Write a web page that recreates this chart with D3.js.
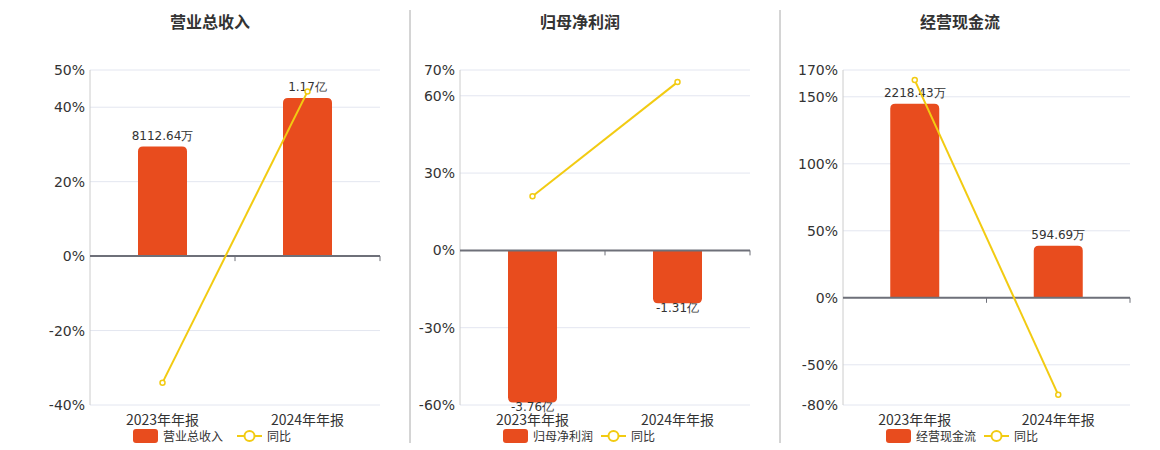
<!DOCTYPE html>
<html><head><meta charset="utf-8">
<script src="https://cdn.jsdelivr.net/npm/d3@7"></script>
<style>body{margin:0;background:#fff;font-family:"Noto Sans CJK SC","DejaVu Sans",sans-serif}</style>
</head><body><svg id="c" width="1160" height="450"></svg>
<script>
const categories = ["2023年年报","2024年年报"];
const titles = ["营业总收入","归母净利润","经营现金流"];
const barValues1 = [8112.64, 11700];
const barLabels1 = ["8112.64万","1.17亿"];
const yoy1 = [-34, 44.2];
const ticks1 = [50,40,20,0,-20,-40];
const barValues2 = [-37600, -13100];
const barLabels2 = ["-3.76亿","-1.31亿"];
const yoy2 = [21, 65.3];
const ticks2 = [70,60,30,0,-30,-60];
const barValues3 = [2218.43, 594.69];
const barLabels3 = ["2218.43万","594.69万"];
const yoy3 = [162.5, -72.4];
const ticks3 = [170,150,100,50,0,-50,-80];

const panels = [
  {title:titles[0], bars:barValues1, labels:barLabels1, yoy:yoy1, ticks:ticks1, left:90, right:380, barPx:158},
  {title:titles[1], bars:barValues2, labels:barLabels2, yoy:yoy2, ticks:ticks2, left:460, right:750, barPx:152},
  {title:titles[2], bars:barValues3, labels:barLabels3, yoy:yoy3, ticks:ticks3, left:843, right:1130, barPx:194}
];
const svg = d3.select("#c");
const plotTop=70, plotBottom=405, barColor="#E84C1E", lineColor="#F2CB12";

[410,780].forEach(x=>svg.append("line").attr("x1",x).attr("x2",x).attr("y1",10).attr("y2",443).attr("stroke","#aaa").attr("stroke-width",1));

panels.forEach((p,i)=>{
  const g = svg.append("g");
  const y = d3.scaleLinear().domain([d3.min(p.ticks), d3.max(p.ticks)]).range([plotBottom, plotTop]);
  const x = d3.scaleBand().domain(categories).range([p.left, p.right]);
  const maxAbs = d3.max(p.bars, d=>Math.abs(d));
  const yb = d3.scaleLinear().domain([0, maxAbs]).range([y(0), y(0)-p.barPx]);
  g.append("text").attr("x", (i===0?210:i===1?580:960)).attr("y",28).attr("text-anchor","middle")
    .attr("font-size",16).attr("font-weight","bold").attr("fill","#333").text(p.title);
  g.selectAll(".grid").data(p.ticks).join("line").attr("x1",p.left).attr("x2",p.right)
    .attr("y1",d=>y(d)).attr("y2",d=>y(d)).attr("stroke","#e3e6f0").attr("stroke-width",1);
  g.append("line").attr("x1",p.left).attr("x2",p.left).attr("y1",plotTop).attr("y2",plotBottom).attr("stroke","#ccc");
  g.selectAll(".tl").data(p.ticks).join("text").attr("x",p.left-5).attr("y",d=>y(d)+5)
    .attr("text-anchor","end").attr("font-size",14).attr("fill","#333").attr("font-family","DejaVu Sans").text(d=>d+"%");
  p.bars.forEach((v,j)=>{
    const bw=49, bx=x(categories[j])+x.bandwidth()/2-bw/2;
    const y0=y(0), h=Math.abs(yb(Math.abs(v))-y0), r=5;
    let path;
    if(v>=0){const t=y0-h; path=`M${bx},${y0}V${t+r}Q${bx},${t} ${bx+r},${t}H${bx+bw-r}Q${bx+bw},${t} ${bx+bw},${t+r}V${y0}Z`;}
    else{const b=y0+h; path=`M${bx},${y0}V${b-r}Q${bx},${b} ${bx+r},${b}H${bx+bw-r}Q${bx+bw},${b} ${bx+bw},${b-r}V${y0}Z`;}
    g.append("path").attr("d",path).attr("fill",barColor);
    g.append("text").attr("x",bx+bw/2).attr("y", v>=0? y0-h-7 : y0+h+9).attr("text-anchor","middle")
      .attr("font-size",12).attr("fill","#333").attr("font-family","DejaVu Sans").text(p.labels[j]);
  });
  g.append("line").attr("x1",p.left).attr("x2",p.right).attr("y1",y(0)).attr("y2",y(0)).attr("stroke","#6e7079").attr("stroke-width",2);
  [x(categories[1]), p.right].forEach(t=>g.append("line").attr("x1",t).attr("x2",t).attr("y1",y(0)).attr("y2",y(0)+5).attr("stroke","#6e7079"));
  categories.forEach(c=>g.append("text").attr("x",x(c)+x.bandwidth()/2).attr("y",425).attr("text-anchor","middle")
    .attr("font-size",14).attr("fill","#333").text(c));
  const line=d3.line().x((d,j)=>x(categories[j])+x.bandwidth()/2).y(d=>y(d));
  g.append("path").attr("d",line(p.yoy)).attr("fill","none").attr("stroke",lineColor).attr("stroke-width",2);
  p.yoy.forEach((d,j)=>g.append("circle").attr("cx",x(categories[j])+x.bandwidth()/2).attr("cy",y(d)).attr("r",2.5)
    .attr("fill","#fff").attr("stroke",lineColor).attr("stroke-width",1.5));
  const lx = p.left+43;
  g.append("rect").attr("x",lx).attr("y",429).attr("width",25).attr("height",14).attr("rx",3).attr("fill",barColor);
  g.append("text").attr("x",lx+30).attr("y",441).attr("font-size",12).attr("fill","#333").text(p.title);
  const l2 = lx+30+p.title.length*12+8+(i===0?6:0);
  g.append("line").attr("x1",l2).attr("x2",l2+25).attr("y1",436).attr("y2",436).attr("stroke",lineColor).attr("stroke-width",2);
  g.append("circle").attr("cx",l2+12.5).attr("cy",436).attr("r",5).attr("fill","#fff").attr("stroke",lineColor).attr("stroke-width",2);
  g.append("text").attr("x",l2+30).attr("y",441).attr("font-size",12).attr("fill","#333").text("同比");
});
</script></body></html>
